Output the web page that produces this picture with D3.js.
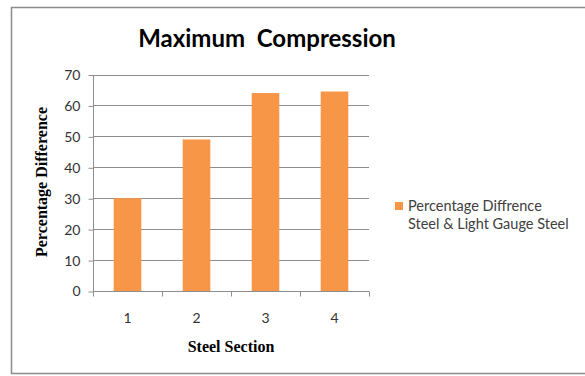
<!DOCTYPE html>
<html>
<head>
<meta charset="utf-8">
<script src="https://cdn.jsdelivr.net/npm/d3@7"></script>
<style>
  html, body { margin: 0; padding: 0; background: #fff; }
  svg { display: block; }
</style>
</head>
<body>
<svg id="chart" width="585" height="376"></svg>
<script>
// Steel sections and the percentage difference for each
const categories = ["1", "2", "3", "4"];
const percentDiff = [30, 49, 64, 64.5];
const yTicks = [0, 10, 20, 30, 40, 50, 60, 70];
const legendLines = ["Percentage Diffrence", "Steel & Light Gauge Steel"];

const svg = d3.select("#chart");
const W = 585, H = 376;
const plot = { left: 93, right: 369, top: 74.5, bottom: 291 };
const barColor = "#f79646";
const sansFont = "Lato, 'Open Sans', sans-serif";
const serifFont = "'Liberation Serif', 'DejaVu Serif', serif";

// Outer frame
svg.append("rect")
  .attr("x", 11.5).attr("y", 7.5)
  .attr("width", W + 10).attr("height", 366)
  .attr("fill", "#fff").attr("stroke", "#8c8c8c").attr("stroke-width", 1.5);

// Title
svg.append("text")
  .attr("x", 267).attr("y", 47)
  .attr("text-anchor", "middle")
  .attr("font-family", sansFont)
  .attr("font-weight", "bold")
  .attr("font-size", 24)
  .attr("fill", "#000")
  .style("white-space", "pre")
  .text("Maximum  Compression");

const x = d3.scaleBand()
  .domain(categories)
  .range([plot.left, plot.right])
  .paddingInner(0.6)
  .paddingOuter(0.3);

const y = d3.scaleLinear()
  .domain([0, 70])
  .range([plot.bottom, plot.top]);

// Horizontal gridlines
svg.append("g")
  .selectAll("line")
  .data(yTicks.filter(d => d > 0))
  .join("line")
  .attr("x1", plot.left).attr("x2", plot.right)
  .attr("y1", d => Math.round(y(d)) + 0.5)
  .attr("y2", d => Math.round(y(d)) + 0.5)
  .attr("stroke", "#8e8e8e").attr("stroke-width", 1);

// Y axis
const yAxis = svg.append("g")
  .attr("transform", `translate(${plot.left + 0.5},0.5)`)
  .call(d3.axisLeft(y).tickValues(yTicks).tickSize(5).tickPadding(8).tickFormat(d3.format("d")));
yAxis.select(".domain").attr("stroke", "#8e8e8e").attr("d", `M0,${y(70)}V${y(0)}`);
yAxis.selectAll(".tick line").attr("stroke", "#8e8e8e");
yAxis.selectAll(".tick text")
  .attr("font-family", sansFont).attr("font-size", 14).attr("fill", "#333");

// Bars
svg.append("g")
  .selectAll("rect")
  .data(categories.map((c, i) => ({ c, v: percentDiff[i] })))
  .join("rect")
  .attr("x", d => x(d.c))
  .attr("y", d => y(d.v))
  .attr("width", x.bandwidth())
  .attr("height", d => y(0) - y(d.v))
  .attr("fill", barColor);

// X axis with ticks between categories
const xAxisG = svg.append("g").attr("transform", `translate(0,${Math.round(y(0)) + 0.5})`);
xAxisG.append("line")
  .attr("x1", plot.left).attr("x2", plot.right)
  .attr("stroke", "#8e8e8e");
const boundaries = d3.range(categories.length + 1).map(i => plot.left + i * (plot.right - plot.left) / categories.length);
xAxisG.selectAll("line.tick")
  .data(boundaries)
  .join("line")
  .attr("class", "tick")
  .attr("x1", d => Math.round(d) + 0.5).attr("x2", d => Math.round(d) + 0.5)
  .attr("y1", 0).attr("y2", 5)
  .attr("stroke", "#8e8e8e");
xAxisG.selectAll("text")
  .data(categories)
  .join("text")
  .attr("x", d => x(d) + x.bandwidth() / 2)
  .attr("y", 31)
  .attr("text-anchor", "middle")
  .attr("font-family", sansFont).attr("font-size", 14).attr("fill", "#333")
  .text(d => d);

// Axis titles
svg.append("text")
  .attr("x", 231).attr("y", 352)
  .attr("text-anchor", "middle")
  .attr("font-family", serifFont).attr("font-weight", "bold").attr("font-size", 16)
  .attr("fill", "#000")
  .text("Steel Section");

svg.append("text")
  .attr("transform", `translate(47,182) rotate(-90)`)
  .attr("text-anchor", "middle")
  .attr("font-family", serifFont).attr("font-weight", "bold").attr("font-size", 16)
  .attr("fill", "#000")
  .text("Percentage Difference");

// Legend
const legend = svg.append("g").attr("transform", "translate(395,202)");
legend.append("rect")
  .attr("x", 0).attr("y", 0).attr("width", 8).attr("height", 8)
  .attr("fill", barColor);
legend.selectAll("text")
  .data(legendLines)
  .join("text")
  .attr("x", 13)
  .attr("y", (d, i) => 9 + i * 18)
  .attr("font-family", sansFont).attr("font-size", 14.5).attr("fill", "#404040")
  .text(d => d);
</script>
</body>
</html>
